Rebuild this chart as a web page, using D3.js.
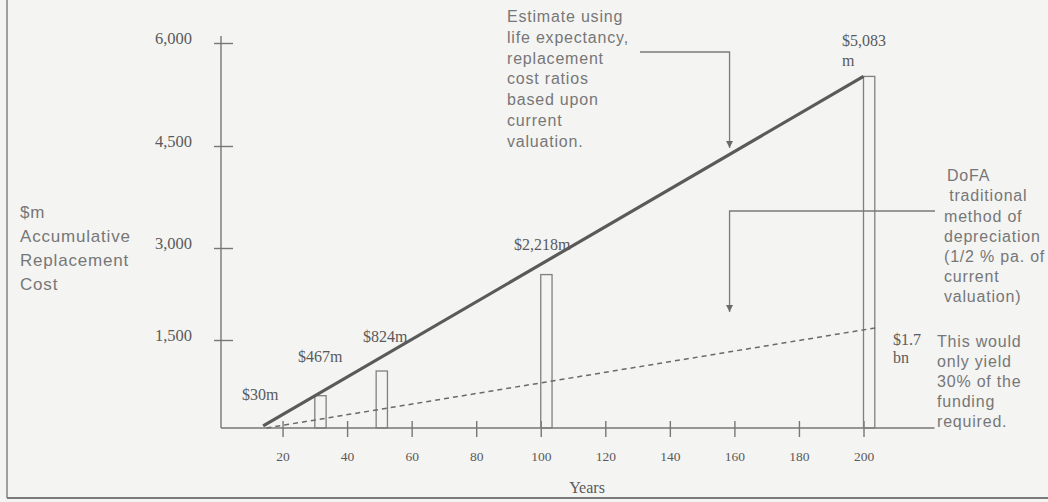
<!DOCTYPE html>
<html>
<head>
<meta charset="utf-8">
<script src="https://cdn.jsdelivr.net/npm/d3@7"></script>
<style>
  html, body { margin: 0; padding: 0; background: #f4f4f3; }
  svg { display: block; }
  .serif { font-family: "Liberation Serif", "DejaVu Serif", serif; fill: #5a5a5a; }
  .sans { font-family: "Liberation Sans", Arial, sans-serif; fill: #777; font-size: 16px; letter-spacing: 0.8px; }
</style>
</head>
<body>
<svg id="chart" width="1048" height="502"></svg>
<script>
// Accumulated replacement cost (solid line), start and end of the estimate
const lineYears = [14, 200];
const lineValues = [30, 5083];

// Replacement cost at selected years (open bars)
const barYears = [30, 49, 100, 200];
const barValues = [467, 824, 2218, 5083];
const barSpan = 3.5; // years covered by each bar

// DoFA traditional depreciation (dashed line)
const dofaYears = [15, 204];
const dofaValues = [0, 1700];

// Axis ticks
const xTicks = [20, 40, 60, 80, 100, 120, 140, 160, 180, 200];
const yTicks = [1500, 3000, 4500, 6000];

const svg = d3.select("#chart");
const W = 1048, H = 502;
const baseY = 428;
const axisX = 221;

svg.append("rect").attr("width", W).attr("height", H).attr("fill", "#f4f4f3");

// outer frame (left and bottom rule)
svg.append("line").attr("x1", 7).attr("x2", 7).attr("y1", 0).attr("y2", 498)
  .attr("stroke", "#8a8a8a").attr("stroke-width", 1.6);
svg.append("line").attr("x1", 7).attr("x2", W).attr("y1", 498).attr("y2", 498)
  .attr("stroke", "#7a7a7a").attr("stroke-width", 2);

// scales
const x = d3.scaleLinear().domain([0, 200]).range([218, 863.5]);
// the value axis as ruled, tick by tick
const yAxisScale = d3.scaleLinear()
  .domain([0, 1500, 3000, 4500, 6000])
  .range([baseY, 340, 248, 146, 43]);
// replacement cost marks
const yv = d3.scaleLinear().domain([0, 6000]).range([baseY, baseY - 415]);

// y axis
const yAxis = svg.append("g").attr("transform", `translate(${axisX},0)`)
  .call(d3.axisLeft(yAxisScale).tickValues(yTicks).tickFormat(d3.format(",")).tickSize(0).tickPadding(0));
yAxis.select(".domain").remove();
yAxis.append("line").attr("x1", 0).attr("x2", 0).attr("y1", 36).attr("y2", baseY)
  .attr("stroke", "#777").attr("stroke-width", 1.4);
yAxis.selectAll(".tick line").attr("x1", -7).attr("x2", 12)
  .attr("stroke", "#777").attr("stroke-width", 1.4);
yAxis.selectAll(".tick text")
  .attr("class", "serif").attr("x", -29).attr("dy", "0.05em")
  .attr("font-size", 16.5).style("font-family", "Liberation Serif, serif").attr("fill", "#5a5a5a");

// x axis
const xAxis = svg.append("g").attr("transform", `translate(0,${baseY})`)
  .call(d3.axisBottom(x).tickValues(xTicks).tickFormat(d3.format("d")).tickSize(0).tickPadding(0));
xAxis.select(".domain").remove();
xAxis.append("line").attr("x1", axisX).attr("x2", x(222)).attr("y1", 0).attr("y2", 0)
  .attr("stroke", "#777").attr("stroke-width", 1.4);
xAxis.selectAll(".tick line").attr("y1", -7).attr("y2", 9)
  .attr("stroke", "#777").attr("stroke-width", 1.4);
xAxis.selectAll(".tick text")
  .attr("y", 33).attr("dy", 0)
  .attr("font-size", 13.5).style("font-family", "Liberation Serif, serif").attr("fill", "#5a5a5a");

svg.append("text").attr("class", "serif").attr("x", 587).attr("y", 493)
  .attr("text-anchor", "middle").attr("font-size", 16).text("Years");

// y axis title
const yTitle = ["$m", "Accumulative", "Replacement", "Cost"];
svg.append("text").attr("class", "sans").attr("x", 20).attr("y", 218)
  .style("font-size", "17px")
  .selectAll("tspan").data(yTitle).join("tspan")
  .attr("x", 20).attr("dy", (d, i) => i === 0 ? 0 : 24).text(d => d);

// open bars
svg.append("g").selectAll("rect").data(barYears).join("rect")
  .attr("x", d => x(d))
  .attr("width", d => x(d + barSpan) - x(d))
  .attr("y", (d, i) => yv(barValues[i]))
  .attr("height", (d, i) => baseY - yv(barValues[i]))
  .attr("fill", "none").attr("stroke", "#808080").attr("stroke-width", 1.3);

// DoFA dashed line
svg.append("path")
  .datum(dofaYears.map((d, i) => [d, dofaValues[i]]))
  .attr("d", d3.line().x(d => x(d[0])).y(d => yAxisScale(d[1])))
  .attr("fill", "none").attr("stroke", "#6a6a6a").attr("stroke-width", 1.5)
  .attr("stroke-dasharray", "5,4");

// replacement cost line
svg.append("path")
  .datum(lineYears.map((d, i) => [d, lineValues[i]]))
  .attr("d", d3.line().x(d => x(d[0])).y(d => yv(d[1])))
  .attr("fill", "none").attr("stroke", "#5a5a5a").attr("stroke-width", 3.2)
  .attr("stroke-linecap", "butt");

// value labels
const serifLabels = [
  { t: "$30m", x: 242, y: 400 },
  { t: "$467m", x: 298, y: 362 },
  { t: "$824m", x: 363, y: 342 },
  { t: "$2,218m", x: 514, y: 250 },
  { t: "$5,083", x: 842, y: 46 },
  { t: "m", x: 842, y: 66 },
  { t: "$1.7", x: 893, y: 345 },
  { t: "bn", x: 893, y: 363 }
];
svg.append("g").selectAll("text").data(serifLabels).join("text")
  .attr("class", "serif").attr("font-size", 16)
  .attr("x", d => d.x).attr("y", d => d.y).text(d => d.t);

// annotation blocks
function block(lines, x0, y0, step) {
  svg.append("text").attr("class", "sans").attr("x", x0).attr("y", y0)
    .attr("xml:space", "preserve")
    .selectAll("tspan").data(lines).join("tspan")
    .attr("x", x0).attr("dy", (d, i) => i === 0 ? 0 : step).text(d => d);
}
block(["Estimate using", "life expectancy,", "replacement", "cost ratios",
       "based upon", "current", "valuation."], 507, 22, 20.8);
block(["DoFA"], 947, 181, 20);
block([" traditional"], 944, 201, 20);
block(["method of", "depreciation", "(1/2 % pa. of", "current", "valuation)"], 944, 222, 20);
block(["This would", "only yield", "30% of the", "funding", "required."], 937, 347, 20);

// arrows
const defs = svg.append("defs");
defs.append("marker").attr("id", "head")
  .attr("viewBox", "0 0 10 10").attr("refX", 10).attr("refY", 5)
  .attr("markerWidth", 7).attr("markerHeight", 7).attr("markerUnits", "userSpaceOnUse")
  .attr("orient", "auto")
  .append("path").attr("d", "M0,0 L10,5 L0,10 Z").attr("fill", "#6a6a6a");

const arrowX = x(158.5);
svg.append("path")
  .attr("d", `M640,52 H${arrowX} V148`)
  .attr("fill", "none").attr("stroke", "#7a7a7a").attr("stroke-width", 1.3)
  .attr("marker-end", "url(#head)");
svg.append("path")
  .attr("d", `M935,211 H${arrowX} V312`)
  .attr("fill", "none").attr("stroke", "#7a7a7a").attr("stroke-width", 1.3)
  .attr("marker-end", "url(#head)");
</script>
</body>
</html>
